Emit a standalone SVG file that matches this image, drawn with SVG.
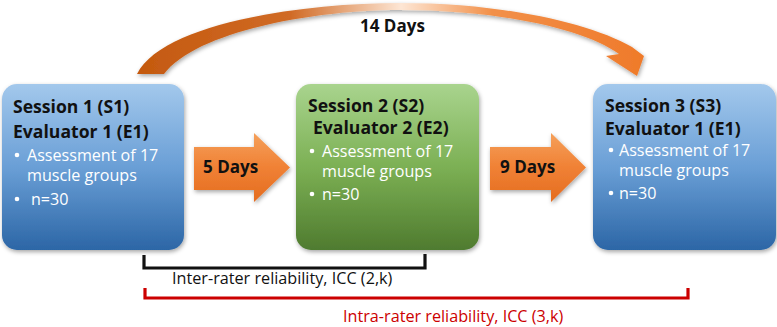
<svg xmlns="http://www.w3.org/2000/svg" width="777" height="327" viewBox="0 0 777 327">
<defs>
<linearGradient id="gBlue" x1="0" y1="0" x2="0" y2="1">
<stop offset="0" stop-color="#a3c8ec"/>
<stop offset="0.5" stop-color="#6a9fd6"/>
<stop offset="1" stop-color="#2c66a6"/>
</linearGradient>
<linearGradient id="gGreen" x1="0" y1="0" x2="0" y2="1">
<stop offset="0" stop-color="#a9d48e"/>
<stop offset="0.5" stop-color="#7cb054"/>
<stop offset="1" stop-color="#4f7b2f"/>
</linearGradient>
<linearGradient id="gOrange" x1="0" y1="0" x2="0" y2="1">
<stop offset="0" stop-color="#f5a05a"/>
<stop offset="0.5" stop-color="#f08135"/>
<stop offset="1" stop-color="#e46c1f"/>
</linearGradient>
<linearGradient id="gCurve" gradientUnits="userSpaceOnUse" x1="138" y1="0" x2="644" y2="0">
<stop offset="0" stop-color="#c4590f"/>
<stop offset="0.3" stop-color="#d06a25"/>
<stop offset="0.52" stop-color="#fde6d4"/>
<stop offset="0.7" stop-color="#f29049"/>
<stop offset="1" stop-color="#ef7a2a"/>
</linearGradient>
<filter id="sh" x="-10%" y="-10%" width="120%" height="130%">
<feDropShadow dx="1" dy="2" stdDeviation="2" flood-color="#000" flood-opacity="0.35"/>
</filter>
</defs>
<style>
.box{stroke:none;filter:url(#sh)}
.hd{font-family:"Open Sans","Liberation Sans",sans-serif;font-weight:bold;font-size:17.6px;fill:#111}
.bl{font-family:"Open Sans","Liberation Sans",sans-serif;font-size:16.1px;fill:#fff}
.dot{fill:#fff}
.days{font-family:"Open Sans","Liberation Sans",sans-serif;font-weight:bold;font-size:17px;fill:#111}
.lab{font-family:"Open Sans","Liberation Sans",sans-serif;font-size:16.2px}
</style>
<rect width="777" height="327" fill="#fff"/>

<g id="connectors">
<path id="arc14" d="M137,74 C162,24 300,3 400,3 C500,3 588,22 632,47 L644,56 L637,76 L606,56 L619,54 C585,29 500,10 400,10 C312,10 195,32 164,74 Z" fill="url(#gCurve)" filter="url(#sh)"/>
<text class="days" x="360" y="32">14 Days</text>
<polygon id="arrow5" points="194,147 254,147 254,133 290,167.5 254,202 254,190 194,190" fill="url(#gOrange)" filter="url(#sh)"/>
<text class="days" x="203" y="173">5 Days</text>
<polygon id="arrow9" points="490,147 551,147 551,133 586,167.5 551,202 551,190 490,190" fill="url(#gOrange)" filter="url(#sh)"/>
<text class="days" x="500" y="173">9 Days</text>
<g id="inter">
<path d="M144,255 V268 H425 V254" fill="none" stroke="#111" stroke-width="3.2"/>
<text class="lab" x="172" y="284" fill="#111">Inter-rater reliability, ICC (2,k)</text>
</g>
<g id="intra">
<path d="M145,288 V298 H688 V288" fill="none" stroke="#cc0000" stroke-width="3.2"/>
<text class="lab" x="343" y="322" fill="#cc0000">Intra-rater reliability, ICC (3,k)</text>
</g>
</g>

<g id="s1">
<rect class="box" x="2" y="84" width="182" height="166" rx="15" fill="url(#gBlue)"/>
<text class="hd" x="13" y="113">Session 1 (S1)</text>
<text class="hd" x="13" y="138">Evaluator 1 (E1)</text>
<circle class="dot" cx="17" cy="155" r="2.3"/>
<text class="bl" x="27" y="161">Assessment of 17</text>
<text class="bl" x="27" y="181">muscle groups</text>
<circle class="dot" cx="17" cy="199" r="2.3"/>
<text class="bl" x="31" y="205">n=30</text>
</g>

<g id="s2">
<rect class="box" x="296" y="84" width="183" height="166" rx="15" fill="url(#gGreen)"/>
<text class="hd" x="308" y="112">Session 2 (S2)</text>
<text class="hd" x="313" y="134">Evaluator 2 (E2)</text>
<circle class="dot" cx="312" cy="151" r="2.3"/>
<text class="bl" x="322" y="157">Assessment of 17</text>
<text class="bl" x="322" y="177">muscle groups</text>
<circle class="dot" cx="312" cy="194" r="2.3"/>
<text class="bl" x="322" y="200">n=30</text>
</g>

<g id="s3">
<rect class="box" x="593" y="84" width="183" height="166" rx="15" fill="url(#gBlue)"/>
<text class="hd" x="605" y="112">Session 3 (S3)</text>
<text class="hd" x="605" y="135">Evaluator 1 (E1)</text>
<circle class="dot" cx="611" cy="150" r="2.3"/>
<text class="bl" x="619" y="156">Assessment of 17</text>
<text class="bl" x="619" y="176">muscle groups</text>
<circle class="dot" cx="611" cy="193" r="2.3"/>
<text class="bl" x="619" y="199">n=30</text>
</g>
</svg>
